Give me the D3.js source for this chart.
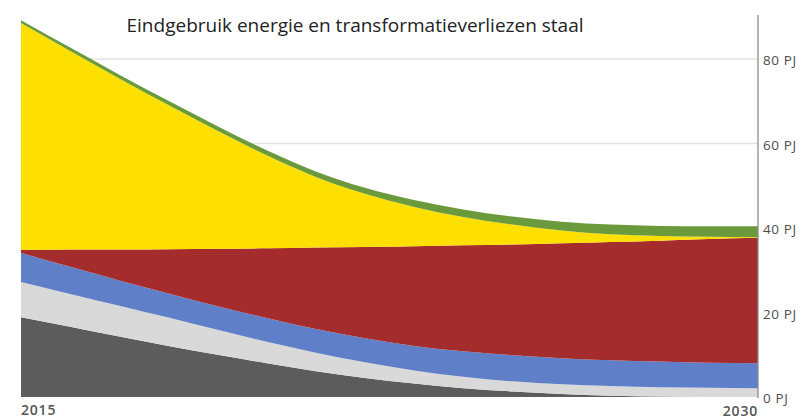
<!DOCTYPE html>
<html>
<head>
<meta charset="utf-8">
<script src="https://cdn.jsdelivr.net/npm/d3@7"></script>
<style>
  html, body { margin: 0; padding: 0; background: #fff; }
  svg { display: block; }
</style>
</head>
<body>
<svg id="chart" width="805" height="420"></svg>
<script>
// Energy use and transformation losses in steel, PJ per year
const years = [2015, 2016, 2017, 2018, 2019, 2020, 2021, 2022, 2023, 2024, 2025, 2026, 2027, 2028, 2029, 2030];
const seriesNames = ["kolen", "overig", "gas", "elektriciteit", "kooksgas", "verliezen"];
const kolen         = [18.9, 16.6, 14.3, 12.1, 10.0, 8.0, 6.1, 4.5, 3.2, 2.1, 1.3, 0.7, 0.3, 0.1, 0.0, 0.0];
const overig        = [8.3, 7.8, 7.3, 6.7, 5.9, 5.1, 4.4, 3.7, 3.1, 2.7, 2.4, 2.3, 2.3, 2.2, 2.2, 2.1];
const gas           = [6.9, 6.4, 6.0, 5.7, 5.6, 5.6, 5.6, 5.7, 5.8, 6.0, 6.2, 6.2, 6.1, 6.1, 5.9, 5.9];
const elektriciteit = [0.7, 4.1, 7.3, 10.5, 13.6, 16.5, 19.3, 21.6, 23.6, 25.1, 26.2, 27.2, 28.0, 28.6, 29.3, 29.7];
const kooksgas      = [53.7, 47.0, 40.5, 34.1, 27.9, 22.0, 16.7, 12.6, 9.3, 6.7, 4.7, 3.0, 1.8, 1.1, 0.5, 0.1];
const verliezen     = [0.7, 0.8, 0.9, 1.0, 1.1, 1.2, 1.3, 1.4, 1.6, 1.8, 1.9, 2.1, 2.3, 2.4, 2.5, 2.6];
const yTicks = [0, 20, 40, 60, 80];
const xTickLabels = ["2015", "2030"];
const colors = ["#5c5c5c", "#d9d9d9", "#5f7fc8", "#a52c2c", "#fde000", "#6b9a3c"];

const table = years.map((yr, i) => ({
  year: yr,
  kolen: kolen[i],
  overig: overig[i],
  gas: gas[i],
  elektriciteit: elektriciteit[i],
  kooksgas: kooksgas[i],
  verliezen: verliezen[i]
}));

const svg = d3.select("#chart");
const plotLeft = 21, plotRight = 758, plotTop = 59, plotBottom = 397;

const x = d3.scaleLinear().domain([2015, 2030]).range([plotLeft, plotRight]);
const y = d3.scaleLinear().domain([0, 80]).range([plotBottom, plotTop]);

// gridlines
svg.append("g")
  .selectAll("line")
  .data(yTicks.filter(d => d > 0))
  .join("line")
  .attr("x1", plotLeft).attr("x2", plotRight)
  .attr("y1", d => y(d)).attr("y2", d => y(d))
  .attr("stroke", "#e3e3e3")
  .attr("stroke-width", 1.5);

const stack = d3.stack().keys(seriesNames);
const layers = stack(table);

const area = d3.area()
  .x(d => x(d.data.year))
  .y0(d => y(d[0]))
  .y1(d => y(d[1]))
  .curve(d3.curveMonotoneX);

svg.append("g")
  .selectAll("path")
  .data(layers)
  .join("path")
  .attr("d", area)
  .attr("fill", (d, i) => colors[i]);

// right axis
const yAxis = d3.axisRight(y)
  .tickValues(yTicks)
  .tickSize(0)
  .tickPadding(5)
  .tickFormat(d => d + " PJ");

const axisG = svg.append("g")
  .attr("transform", `translate(${plotRight},0)`)
  .call(yAxis);
axisG.select(".domain").remove();
axisG.selectAll("text")
  .style("font-family", "'Open Sans', sans-serif")
  .style("font-size", "13.5px")
  .style("letter-spacing", "0.6px")
  .style("fill", "#4d4d4d")
  .attr("dy", "0.42em");

svg.append("line")
  .attr("x1", plotRight).attr("x2", plotRight)
  .attr("y1", 15).attr("y2", plotBottom + 1)
  .attr("stroke", "#8a8a8a")
  .attr("stroke-width", 1.3);

// year labels
svg.append("text")
  .attr("x", plotLeft).attr("y", 415)
  .style("font-family", "'Open Sans', sans-serif")
  .style("font-size", "14px")
  .style("font-weight", 600)
  .style("letter-spacing", "0.8px")
  .style("fill", "#555")
  .text(xTickLabels[0]);

svg.append("text")
  .attr("x", plotRight).attr("y", 416)
  .attr("text-anchor", "end")
  .style("font-family", "'Open Sans', sans-serif")
  .style("font-size", "14px")
  .style("font-weight", 600)
  .style("letter-spacing", "0.8px")
  .style("fill", "#555")
  .text(xTickLabels[1]);

// title
svg.append("text")
  .attr("x", 355).attr("y", 32)
  .attr("text-anchor", "middle")
  .style("font-family", "'Open Sans', sans-serif")
  .style("font-size", "19px")
  .style("fill", "#222")
  .text("Eindgebruik energie en transformatieverliezen staal");
</script>
</body>
</html>
